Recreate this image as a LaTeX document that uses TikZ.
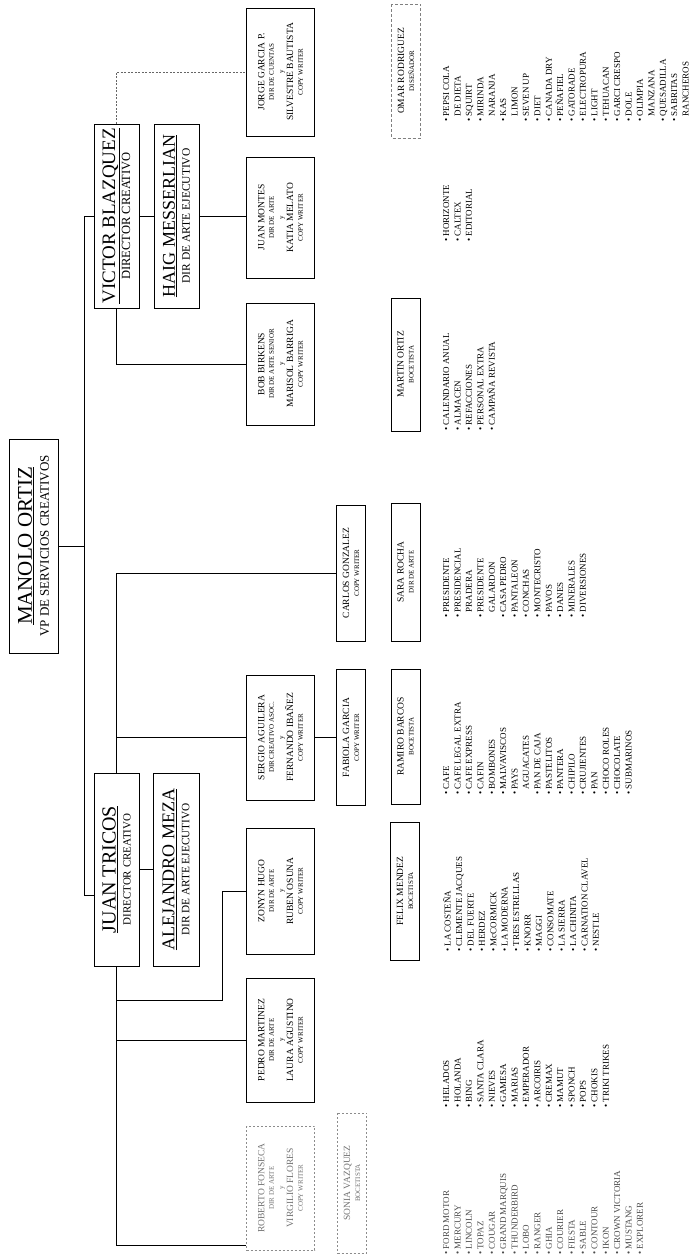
\documentclass[tikz,border=0pt]{standalone}
\usepackage{fontspec}
\setmainfont{Liberation Serif}
\newcommand\fsz[2]{\fontsize{#1}{#2}\selectfont}
\newcommand\nm[1]{{\fsz{9.5}{9.6}#1}}
\newcommand\bul{\textbullet\ }
\newcommand\nobul{\phantom{\textbullet}\ }
\begin{document}
\begin{tikzpicture}[x=1pt,y=1pt,
  bigbox/.style={draw, line width=0.8pt, rotate=90, inner sep=0pt, align=center, minimum height=45pt},
  pairbox/.style={draw, line width=0.7pt, rotate=90, inner sep=0pt, align=center, minimum height=68pt, font=\fsz{7}{9.6}},
  solobox/.style={draw, line width=0.7pt, rotate=90, inner sep=0pt, align=center, minimum height=29pt, font=\fsz{7}{10}},
  faint/.style={draw=black!45, dash pattern=on 2pt off 2pt, text=black!55},
  conn/.style={line width=0.7pt},
  itemlist/.style={rotate=90, anchor=north west, inner sep=0pt, align=left, font=\fsz{9}{11.4}}]
\fill[white] (0,0) rectangle (695,-1256);
\useasboundingbox (0,0) rectangle (695,-1256);

% ---- top levels
\node[bigbox, minimum width=214pt, minimum height=49pt, font=\fsz{13}{17}] (manolo) at (33.5,-546)
  {{\fsz{21}{21}\underline{MANOLO ORTIZ}}\\VP DE SERVICIOS CREATIVOS};
\node[bigbox, minimum width=184pt, font=\fsz{12.5}{15}] (victor) at (116.5,-216)
  {{\fsz{19}{19}\underline{VICTOR BLAZQUEZ}}\\DIRECTOR CREATIVO};
\node[bigbox, minimum width=184pt, font=\fsz{11.5}{15}] (haig) at (176.5,-216)
  {{\fsz{18}{18}\underline{HAIG MESSERLIAN}}\\DIR DE ARTE EJECUTIVO};
\node[bigbox, minimum width=193pt, font=\fsz{11}{15}] (juan) at (116.5,-869.5)
  {{\fsz{20}{20}\underline{JUAN TRICOS}}\\DIRECTOR CREATIVO};
\node[bigbox, minimum width=193pt, minimum height=46pt, font=\fsz{11.3}{15}] (alejandro) at (176,-869.5)
  {{\fsz{18}{18}\underline{ALEJANDRO MEZA}}\\DIR DE ARTE EJECUTIVO};

% ---- second level (pairs)
\node[pairbox, minimum width=128pt] (jorge) at (280.5,-72)
  {\nm{JORGE GARCIA P.}\\DIR DE CUENTAS\\y\\\nm{SILVESTRE BAUTISTA}\\COPY WRITER};
\node[pairbox, minimum width=121pt] (montes) at (280.5,-217.5)
  {\nm{JUAN MONTES}\\DIR DE ARTE\\y\\\nm{KATIA MELATO}\\COPY WRITER};
\node[pairbox, minimum width=122pt] (bob) at (280.5,-364)
  {\nm{BOB BIRKENS}\\DIR DE ARTE SENIOR\\y\\\nm{MARISOL BARRIGA}\\COPY WRITER};
\node[pairbox, minimum width=125pt] (sergio) at (280.5,-737.5)
  {\nm{SERGIO AGUILERA}\\DIR CREATIVO ASOC.\\y\\\nm{FERNANDO IBAÑEZ}\\COPY WRITER};
\node[pairbox, minimum width=126pt] (zonyn) at (280.5,-891)
  {\nm{ZONYN HUGO}\\DIR DE ARTE\\y\\\nm{RUBEN OSUNA}\\COPY WRITER};
\node[pairbox, minimum width=124pt] (pedro) at (280.5,-1040)
  {\nm{PEDRO MARTINEZ}\\DIR DE ARTE\\y\\\nm{LAURA AGUSTINO}\\COPY WRITER};
\node[pairbox, faint, minimum width=124pt] (lastbox) at (280.5,-1188)
  {\nm{ROBERTO FONSECA}\\DIR DE ARTE\\y\\\nm{VIRGILIO FLORES}\\COPY WRITER};

% ---- single boxes
\node[solobox, minimum width=136pt] (carlos) at (351,-573)
  {\nm{CARLOS GONZALEZ}\\COPY WRITER};
\node[solobox, minimum width=136pt] (fabiola) at (351,-737.5)
  {\nm{FABIOLA GARCIA}\\COPY WRITER};
\node[solobox, faint, minimum width=140pt] (sonia) at (352,-1183)
  {\nm{SONIA VAZQUEZ}\\BOCETISTA};
\node[solobox, draw=black!50, dash pattern=on 3pt off 2pt, minimum width=134pt] (omar) at (406,-71)
  {\nm{OMAR RODRIGUEZ}\\DISEÑADOR};
\node[solobox, minimum width=133pt] (martin) at (405.5,-364.5)
  {\nm{MARTIN ORTIZ}\\BOCETISTA};
\node[solobox, minimum width=138pt] (sara) at (405.5,-572)
  {\nm{SARA ROCHA}\\DIR DE ARTE};
\node[solobox, minimum width=135pt] (ramiro) at (405.5,-736.5)
  {\nm{RAMIRO BARCOS}\\BOCETISTA};
\node[solobox, minimum width=138pt] (felix) at (405,-891)
  {\nm{FELIX MENDEZ}\\BOCETISTA};

% ---- connectors
\coordinate (tA) at (84,-216);
\coordinate (tB) at (84,-895);
\coordinate (zk) at (222,-1000);
\draw[conn] (manolo.south) -- (manolo.south -| tA);
\draw[conn] (victor.north) -- (tA) -- (tB) -- (tB -| juan.north);
\draw[conn] (victor.south) -- (haig.north);
\draw[conn] (haig.south) -- (haig.south -| montes.north);
\draw[conn] (juan.south) -- (alejandro.north);
\draw[conn, black!60, dash pattern=on 2pt off 1.5pt] (victor.east) |- (jorge.north);
\draw[conn] (victor.west) |- (bob.north);
\draw[conn] (juan.east) |- (carlos.north);
\draw[conn] (juan.east |- sergio.north) -- (sergio.north);
\draw[conn] (sergio.south) -- (fabiola.north);
\draw[conn] (juan.west) |- ([yshift=5pt]lastbox.north west);
\draw[conn] (juan.west |- pedro.north) -- (pedro.north);
\draw[conn] (juan.west |- zk) -- (zk) |- (zonyn.north);

% ---- account lists
\node[itemlist] (listjorge) at (443,-122) {%
\bul PEPSI COLA\\ \nobul DE DIETA\\ \bul SQUIRT\\ \bul MIRINDA\\ \nobul NARANJA\\
\bul KAS\\ \nobul LIMON\\ \bul SEVEN UP\\ \bul DIET\\ \bul CANADA DRY\\ \bul PEÑAFIEL\\
\bul GATORADE\\ \bul ELECTROPURA\\ \bul LIGHT\\ \bul TEHUACAN\\ \bul GARCI CRESPO\\
\bul DOLE\\ \bul OLIMPIA\\ \nobul MANZANA\\ \bul QUESADILLA\\ \bul SABRITAS\\ \nobul RANCHEROS};
\node[itemlist] (listmontes) at (443,-242) {%
\bul HORIZONTE\\ \bul CALTEX\\ \bul EDITORIAL};
\node[itemlist] (listmartin) at (443,-431) {%
\bul CALENDARIO ANUAL\\ \bul ALMACEN\\ \bul REFACCIONES\\ \bul PERSONAL EXTRA\\ \bul CAMPAÑA REVISTA};
\node[itemlist] (listsara) at (443,-618) {%
\bul PRESIDENTE\\ \bul PRESIDENCIAL\\ \nobul PRADERA\\ \bul PRESIDENTE\\ \nobul GALARDON\\
\bul CASA PEDRO\\ \bul PANTALEON\\ \bul CONCHAS\\ \bul MONTECRISTO\\ \bul PAVOS\\
\bul DANES\\ \bul MINERALES\\ \bul DIVERSIONES};
\node[itemlist] (listramiro) at (443,-795) {%
\bul CAFE\\ \bul CAFE LEGAL EXTRA\\ \bul CAFE EXPRESS\\ \bul CAFIN\\ \bul BOMBONES\\
\bul MALVAVISCOS\\ \bul PAYS\\ \nobul AGUACATES\\ \bul PAN DE CAJA\\ \bul PASTELITOS\\
\bul PANTERA\\ \bul CHIPILO\\ \bul CRUJIENTES\\ \bul PAN\\ \bul CHOCO ROLES\\
\bul CHOCOLATE\\ \bul SUBMARINOS};
\node[itemlist] (listfelix) at (443,-952) {%
\bul LA COSTEÑA\\ \bul CLEMENTE JACQUES\\ \bul DEL FUERTE\\ \bul HERDEZ\\ \bul McCORMICK\\
\bul LA MODERNA\\ \bul TRES ESTRELLAS\\ \bul KNORR\\ \bul MAGGI\\ \bul CONSOMATE\\
\bul LA SIERRA\\ \bul LA CHINITA\\ \bul CARNATION CLAVEL\\ \bul NESTLE};
\node[itemlist] (listpedro) at (443,-1108) {%
\bul HELADOS\\ \bul HOLANDA\\ \bul BING\\ \bul SANTA CLARA\\ \bul NIEVES\\
\bul GAMESA\\ \bul MARIAS\\ \bul EMPERADOR\\ \bul ARCOIRIS\\ \bul CREMAX\\
\bul MAMUT\\ \bul SPONCH\\ \bul POPS\\ \bul CHOKIS\\ \bul TRIKI TRIKES};
\node[itemlist, text=black!70] (listlast) at (443,-1255) {%
\bul FORD MOTOR\\ \bul MERCURY\\ \bul LINCOLN\\ \bul TOPAZ\\ \bul COUGAR\\
\bul GRAND MARQUIS\\ \bul THUNDERBIRD\\ \bul LOBO\\ \bul RANGER\\ \bul GHIA\\
\bul COURIER\\ \bul FIESTA\\ \bul SABLE\\ \bul CONTOUR\\ \bul IKON\\
\bul CROWN VICTORIA\\ \bul MUSTANG\\ \bul EXPLORER};
\end{tikzpicture}
\end{document}
